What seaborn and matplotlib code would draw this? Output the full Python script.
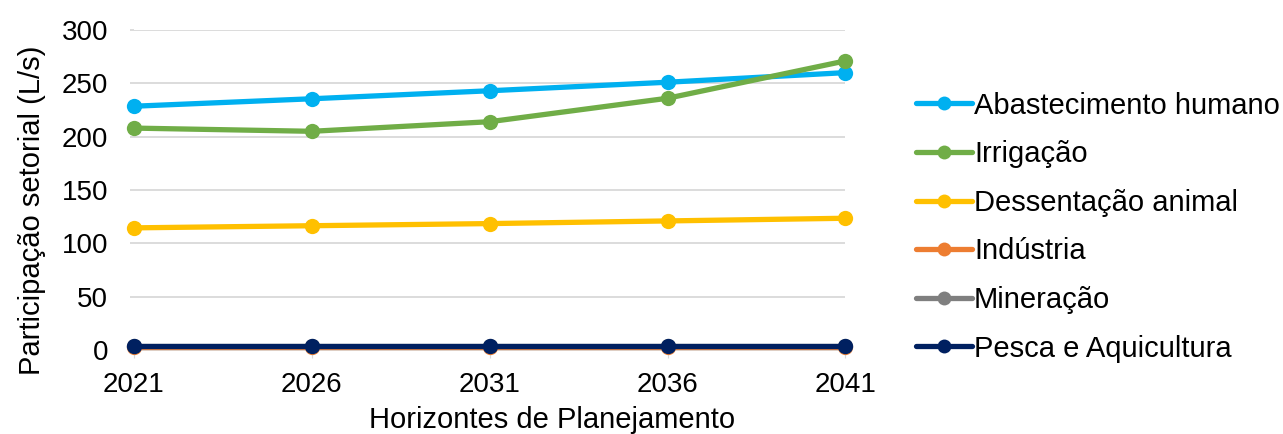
import pandas as pd
import seaborn as sns
import matplotlib.pyplot as plt

# horizons and sector demand (L/s)
anos = [2021, 2026, 2031, 2036, 2041]
abastecimento = [228.5, 235.5, 243, 251, 260]
irrigacao = [208, 205, 214, 236, 271]
dessentacao = [114.5, 116.5, 118.5, 121, 123.5]
industria = [2.5, 2.5, 2.5, 2.5, 2.5]
mineracao = [3.6, 3.6, 3.6, 3.6, 3.6]
pesca = [4, 4, 4, 4, 4]

setores = ["Abastecimento humano", "Irrigação", "Dessentação animal",
           "Indústria", "Mineração", "Pesca e Aquicultura"]
cores = ["#00B0F0", "#70AD47", "#FFC000", "#ED7D31", "#7F7F7F", "#002060"]

valores = [abastecimento, irrigacao, dessentacao, industria, mineracao, pesca]
rows = []
for setor, serie in zip(setores, valores):
    for ano, v in zip(anos, serie):
        rows.append({"Ano": ano, "Setor": setor, "Vazao": v})
df = pd.DataFrame(rows)

sns.set_style("white")
plt.rcParams["font.family"] = ["Liberation Sans", "DejaVu Sans"]
plt.rcParams["text.color"] = "black"
plt.rcParams["axes.labelcolor"] = "black"

fig = plt.figure(figsize=(12.83, 4.34), dpi=100)
ax = fig.add_axes([0.1044, 0.1935, 0.5546, 0.7375])

sns.lineplot(data=df, x="Ano", y="Vazao", hue="Setor", hue_order=setores,
             palette=cores, marker="o", markersize=11, markeredgewidth=0,
             linewidth=3.8, ax=ax, clip_on=False, zorder=3)

ax.set_xlim(2021, 2041)
ax.set_ylim(0, 300)
ax.set_xticks(anos)
ax.set_yticks(range(0, 301, 50))
ax.tick_params(axis="both", labelsize=20, labelcolor="black")
ax.tick_params(axis="x", length=6, color="#D9D9D9", pad=10, direction="out", bottom=True)
ax.tick_params(axis="y", length=3, color="#D9D9D9", width=1.3, pad=15.5,
               direction="out", left=True)
ax.grid(axis="y", color="#D9D9D9", linewidth=1.3)
ax.grid(axis="x", visible=False)
for s in ["top", "right", "left"]:
    ax.spines[s].set_visible(False)
ax.spines["bottom"].set_color("#D9D9D9")
ax.spines["bottom"].set_linewidth(1.3)

ax.set_xlabel("Horizontes de Planejamento", fontsize=21)
ax.xaxis.set_label_coords(0.588, -0.175)
ax.set_ylabel("Participação setorial (L/s)", fontsize=21)
ax.yaxis.set_label_coords(-0.124, 0.4375)

leg = ax.legend(loc="center left", bbox_to_anchor=(1.083, 0.384), frameon=False,
                fontsize=21, handlelength=1.9, handletextpad=0.08,
                labelspacing=0.705, borderaxespad=0)
for h in leg.legend_handles:
    h.set_linewidth(3.8)
    h.set_markersize(10)
for t in leg.get_texts():
    t.set_color("black")

fig.savefig("out.png", dpi=100)
